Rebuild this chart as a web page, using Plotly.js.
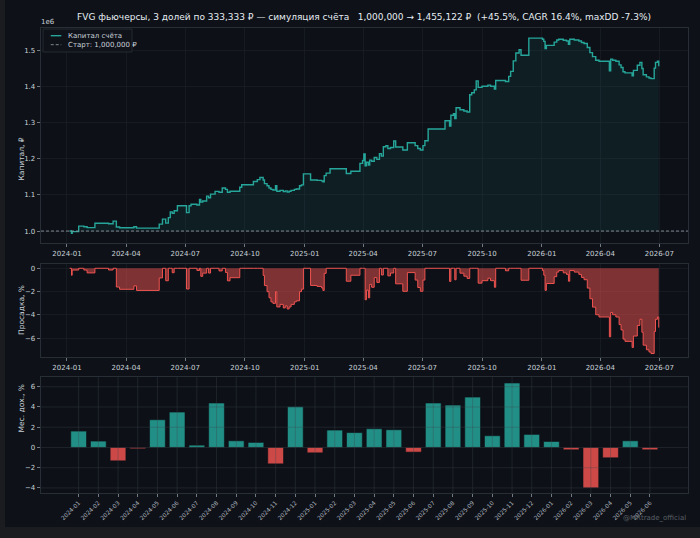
<!DOCTYPE html>
<html>
<head>
<meta charset="utf-8">
<script src="https://cdn.plot.ly/plotly-3.0.1.min.js"></script>
<style>
  html, body { margin: 0; padding: 0; background: #1b1c1f; }
  #chart { position: absolute; left: 5px; top: 0; width: 695px; height: 527px; }
</style>
</head>
<body>
<div id="chart"></div>
<script>
// --- data ---
const START = 1000000;

const eqDates = [
  '2024-01-05','2024-01-08','2024-01-09','2024-01-19','2024-01-27',
  '2024-02-01','2024-02-13','2024-03-05','2024-03-12','2024-03-17','2024-03-22',
  '2024-04-13','2024-04-17','2024-05-22','2024-05-27',
  '2024-06-01','2024-06-05','2024-06-08','2024-06-11','2024-06-14','2024-06-19',
  '2024-07-03','2024-07-07','2024-07-10','2024-07-19','2024-07-23','2024-07-25','2024-07-28',
  '2024-08-03','2024-08-06','2024-08-09','2024-08-16','2024-08-22','2024-08-27',
  '2024-09-01','2024-09-04','2024-09-08','2024-09-23','2024-09-26',
  '2024-10-14','2024-10-20','2024-10-24','2024-10-29','2024-10-31',
  '2024-11-04','2024-11-07','2024-11-10','2024-11-13','2024-11-17','2024-11-19','2024-11-24','2024-11-29',
  '2024-12-02','2024-12-05','2024-12-08','2024-12-11','2024-12-16','2024-12-19','2024-12-24','2024-12-27','2024-12-30',
  '2025-01-10','2025-01-20','2025-01-27','2025-01-29','2025-01-31',
  '2025-02-03','2025-02-09','2025-03-06','2025-03-13','2025-03-27','2025-03-31',
  '2025-04-02','2025-04-04','2025-04-06','2025-04-09','2025-04-11','2025-04-14','2025-04-18','2025-04-22','2025-04-26','2025-04-29',
  '2025-05-02','2025-05-06','2025-05-09','2025-05-13','2025-05-18','2025-05-21',
  '2025-06-01','2025-06-08','2025-06-20','2025-06-24','2025-06-28',
  '2025-07-02','2025-07-05','2025-07-10',
  '2025-08-05','2025-08-12','2025-08-14','2025-08-18','2025-08-20','2025-08-22','2025-08-28',
  '2025-09-03','2025-09-08','2025-09-12','2025-09-15','2025-09-19','2025-09-22','2025-09-25',
  '2025-10-01','2025-10-10','2025-10-14','2025-10-20','2025-10-22',
  '2025-11-06','2025-11-11','2025-11-14','2025-11-18','2025-11-22','2025-11-27','2025-11-30',
  '2025-12-12',
  '2026-01-02','2026-01-04','2026-01-06','2026-01-08','2026-01-20','2026-01-24','2026-01-27',
  '2026-02-03','2026-02-08','2026-02-11','2026-02-13','2026-02-20','2026-02-27',
  '2026-03-03','2026-03-07','2026-03-12','2026-03-16','2026-03-20','2026-03-25','2026-03-30',
  '2026-04-15','2026-04-17','2026-04-20','2026-04-25','2026-04-30',
  '2026-05-03','2026-05-06','2026-05-09','2026-05-20','2026-05-22','2026-05-28',
  '2026-06-01','2026-06-04','2026-06-06','2026-06-11','2026-06-15','2026-06-18','2026-06-23','2026-06-25','2026-06-28','2026-06-30'
];

const eqValues = [
  1000000, 994000, 998500, 1013500, 1012000,
  1009500, 1021500, 1020000, 1027500, 1011000, 1009000,
  1012000, 1008000, 1019000, 1033000,
  1022000, 1037000, 1053000, 1049000, 1056000, 1070000,
  1051000, 1070000, 1074000, 1072000, 1087500, 1080000, 1083000,
  1096500, 1092000, 1102000, 1109500, 1107000, 1119000,
  1115000, 1107000, 1110000, 1121000, 1128000,
  1137000, 1142000, 1148000, 1141000, 1131000,
  1125000, 1119000, 1115000, 1113500, 1125000, 1110000, 1112500, 1109000,
  1111000, 1108000, 1110000, 1112500, 1115000, 1116000, 1125000, 1127500, 1158000,
  1141000, 1140000, 1138500, 1136000, 1153000,
  1160000, 1172000, 1159000, 1165000, 1187000, 1195000,
  1212700, 1180000, 1190000, 1182000, 1196000, 1193000, 1203000, 1198000, 1214000, 1207000,
  1233000, 1236000, 1228000, 1231000, 1248600, 1232000,
  1224000, 1244000, 1236000, 1228000, 1224000,
  1236000, 1249500, 1281800,
  1304700, 1290000, 1320000, 1324000, 1311000, 1340600, 1335000,
  1331500, 1329000, 1376600, 1382000, 1390000, 1415000, 1397000,
  1400000, 1403000, 1400000, 1392000, 1416000,
  1413000, 1427300, 1441000, 1470000, 1491700, 1501000, 1485600,
  1533000,
  1530000, 1524000, 1504000, 1513000, 1522000, 1528000, 1530000,
  1527000, 1525000, 1516000, 1530000, 1528000, 1525000,
  1521000, 1518000, 1507000, 1493000, 1482000, 1472000, 1469000,
  1443000, 1475000, 1472000, 1469000, 1459000,
  1452000, 1440000, 1437000, 1429000, 1444000, 1458000,
  1466000, 1449000, 1432000, 1426000, 1423000, 1421000, 1450000, 1466000, 1469000, 1455122
];

const months = [
  '2024-01','2024-02','2024-03','2024-04','2024-05','2024-06',
  '2024-07','2024-08','2024-09','2024-10','2024-11','2024-12',
  '2025-01','2025-02','2025-03','2025-04','2025-05','2025-06',
  '2025-07','2025-08','2025-09','2025-10','2025-11','2025-12',
  '2026-01','2026-02','2026-03','2026-04','2026-05','2026-06'
];
const monthRet = [
  1.62, 0.63, -1.32, -0.13, 2.74, 3.50,
  0.23, 4.39, 0.66, 0.50, -1.62, 4.03,
  -0.53, 1.72, 1.47, 1.85, 1.75, -0.46,
  4.39, 4.19, 4.98, 1.16, 6.37, 1.29,
  0.59, -0.23, -3.99, -1.02, 0.66, -0.23
];

const capTicks = [1000000, 1100000, 1200000, 1300000, 1400000, 1500000];
const capLabels = ['1.0', '1.1', '1.2', '1.3', '1.4', '1.5'];
const ddTicks = [0, -2, -4, -6];
const retTicks = [-4, -2, 0, 2, 4, 6];
const legendNames = ['Капитал счёта', 'Старт: 1,000,000 ₽'];

// drawdown from the running peak of the equity curve
let peak = 0;
const ddValues = eqValues.map(v => {
  peak = Math.max(peak, v);
  return (v / peak - 1) * 100;
});

const TEAL = '#26a69a';
const RED = '#ef5350';
const TXT = '#c9d1d9';
const DASHC = '#8b949e';
const FONT = 'DejaVu Sans, sans-serif';
const xRange = ['2023-11-22', '2026-08-14'];
const X_DOM = [0.0518, 0.9827];
const Y1 = [0.5389, 0.9469], Y2 = [0.3226, 0.4991], Y3 = [0.0645, 0.2846];

const axisBase = {
  showline: true, mirror: true, linecolor: '#30363d', linewidth: 0.8,
  gridcolor: '#1c2128', gridwidth: 0.6, zeroline: false,
  ticks: 'outside', ticklen: 3.5, tickwidth: 0.8, tickcolor: '#8b949e',
  tickfont: {size: 7, color: TXT, family: FONT}
};
const dateAxis = Object.assign({}, axisBase, {
  type: 'date', range: xRange, tick0: '2024-01-01', dtick: 'M3', tickformat: '%Y-%m', domain: X_DOM
});

const traces = [
  {x: eqDates, y: eqDates.map(() => START), type: 'scatter', mode: 'lines',
   line: {width: 0, shape: 'hv'}, hoverinfo: 'skip'},
  {x: eqDates, y: eqValues, type: 'scatter', mode: 'lines', name: legendNames[0],
   line: {color: TEAL, width: 1.4, shape: 'hv'}, fill: 'tonexty', fillcolor: 'rgba(38,166,154,0.09)'},
  {x: xRange, y: [START, START], type: 'scatter', mode: 'lines', name: legendNames[1],
   line: {color: DASHC, width: 0.9, dash: '3px,2px'}},
  {x: eqDates, y: ddValues, type: 'scatter', mode: 'lines', xaxis: 'x2', yaxis: 'y2',
   line: {color: RED, width: 1, shape: 'hv'}, fill: 'tozeroy', fillcolor: 'rgba(239,83,80,0.5)'},
  {x: months, y: monthRet, type: 'bar', xaxis: 'x3', yaxis: 'y3', width: 0.8,
   marker: {color: monthRet.map(v => v >= 0 ? TEAL : RED), opacity: 0.85,
            line: {color: '#0d1117', width: 0.6}}}
];

// grid over the bars (drawn on top, as in the reference)
const gridLine = {color: 'rgba(62,68,78,0.5)', width: 0.7};
const shapes = months.map(m => ({type: 'line', layer: 'above', xref: 'x3', yref: 'y3 domain',
  x0: m, x1: m, y0: 0, y1: 1, line: gridLine}))
  .concat(retTicks.map(v => ({type: 'line', layer: 'above', xref: 'x3 domain', yref: 'y3',
  x0: 0, x1: 1, y0: v, y1: v, line: gridLine})));

// hand-made compact legend box
shapes.push(
  {type: 'rect', xref: 'paper', yref: 'paper', x0: 0.0547, x1: 0.1827, y0: 0.9013, y1: 0.9450,
   fillcolor: 'rgba(15,19,25,0.9)', line: {color: '#2a3038', width: 0.8}, layer: 'above'},
  {type: 'line', xref: 'paper', yref: 'paper', x0: 0.0658, x1: 0.0810, y0: 0.9323, y1: 0.9323,
   line: {color: TEAL, width: 1.4}, layer: 'above'},
  {type: 'line', xref: 'paper', yref: 'paper', x0: 0.0658, x1: 0.0810, y0: 0.9152, y1: 0.9152,
   line: {color: DASHC, width: 0.9, dash: '3px,2px'}, layer: 'above'}
);

const NB = '\u00a0';
const title = 'FVG фьючерсы, 3 долей по 333,333 ₽ — симуляция счёта' + NB + NB + NB +
  '1,000,000 → 1,455,122 ₽' + NB + NB + '(+45.5%, CAGR 16.4%, maxDD -7.3%)';

const note = (text, x, y, extra) => Object.assign({text: text, xref: 'paper', yref: 'paper', x: x, y: y,
  showarrow: false, font: {size: 7, color: TXT, family: FONT}}, extra || {});
const yTitleFont = {size: 7.5, color: TXT, family: FONT};

const layout = {
  width: 695, height: 527,
  margin: {l: 0, r: 0, t: 0, b: 0},
  paper_bgcolor: '#0e1117', plot_bgcolor: '#0d1117',
  font: {family: FONT, color: TXT, size: 7},
  title: {text: title, x: 0.5166, xanchor: 'center', y: 0.9677, yanchor: 'middle',
          font: {size: 9, color: '#e6edf3', family: FONT}},
  showlegend: false,
  xaxis: Object.assign({}, dateAxis, {anchor: 'y'}),
  yaxis: Object.assign({}, axisBase, {domain: Y1, anchor: 'x',
    range: [967000, 1561000], tickvals: capTicks, ticktext: capLabels}),
  xaxis2: Object.assign({}, dateAxis, {anchor: 'y2'}),
  yaxis2: Object.assign({}, axisBase, {domain: Y2, anchor: 'x2',
    range: [-7.6, 0.37], tickvals: ddTicks}),
  xaxis3: Object.assign({}, axisBase, {domain: X_DOM, anchor: 'y3', type: 'category',
    range: [-1.91, 30.93], tickmode: 'array', tickvals: months, ticktext: months, tickangle: -45,
    showgrid: false, tickfont: {size: 5.8, color: '#b0b8c1', family: FONT}}),
  yaxis3: Object.assign({}, axisBase, {domain: Y3, anchor: 'x3',
    range: [-4.5, 6.96], tickvals: retTicks, showgrid: false}),
  shapes: shapes,
  annotations: [
    note('1e6', 0.0490, 0.9469, {xanchor: 'left', yanchor: 'bottom'}),
    note('Капитал, ₽', 0.0144, (Y1[0] + Y1[1]) / 2, {textangle: -90, font: yTitleFont}),
    note('Просадка, %', 0.0144, (Y2[0] + Y2[1]) / 2, {textangle: -90, font: yTitleFont}),
    note('Мес. дох., %', 0.0144, (Y3[0] + Y3[1]) / 2, {textangle: -90, font: yTitleFont}),
    note(legendNames[0], 0.0878, 0.9323, {xanchor: 'left', yanchor: 'middle'}),
    note(legendNames[1], 0.0878, 0.9152, {xanchor: 'left', yanchor: 'middle'}),
    note('@MRtrade_official', X_DOM[1], 0.017, {xanchor: 'right', yanchor: 'middle',
      font: {size: 7, color: '#5b6068', family: FONT}})
  ]
};

Plotly.newPlot('chart', traces, layout, {staticPlot: true, displayModeBar: false});
</script>
</body>
</html>
